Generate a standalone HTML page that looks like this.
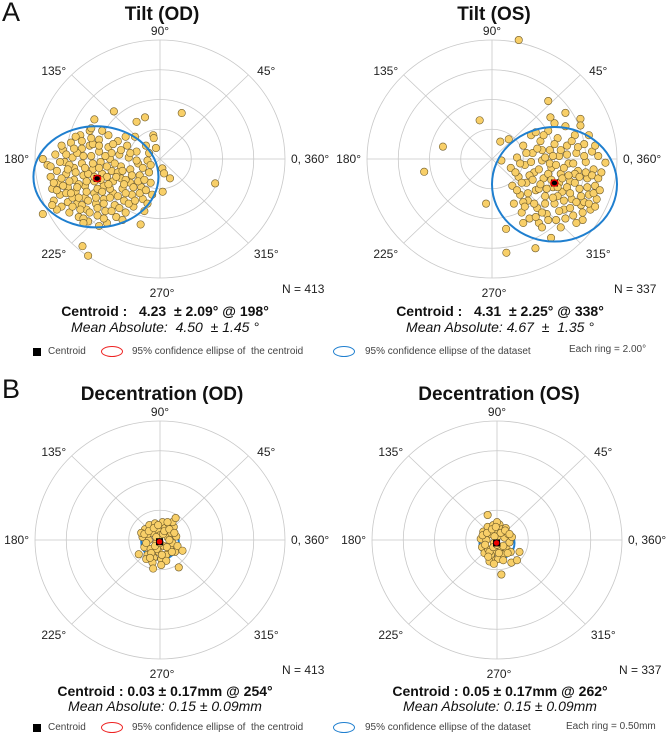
<!DOCTYPE html>
<html><head><meta charset="utf-8">
<style>
html,body{margin:0;padding:0;background:#fff;}
svg{display:block;font-family:"Liberation Sans","DejaVu Sans",sans-serif;}
</style></head>
<body>
<svg id="fig" width="669" height="740" viewBox="0 0 669 740" xmlns="http://www.w3.org/2000/svg"></svg>
<script>
// ---- data (degrees for tilt, mm for decentration) ----
const tiltODPoints = [[-7.5,0],[-7.5,-3.7],[-7.2,-0.4],[-7.0,-1.2],[-6.9,-2.0],[-6.8,-2.8],[-6.7,0.3],[-6.6,-0.8],[-6.5,-1.6],[-6.4,-2.4],[-6.3,-3.2],[-6.2,0.6],[-6.1,-0.2],[-6.0,-1.0],[-5.9,-1.9],[-5.9,-2.9],[-5.8,-3.6],[-5.7,1.1],[-5.6,0.1],[-5.5,-0.6],[-5.5,-1.4],[-5.4,-2.2],[-5.3,-3.0],[-5.2,-3.9],[-5.1,1.6],[-5.0,0.7],[-5.0,-0.3],[-4.9,-1.1],[-4.8,-1.8],[-4.8,-2.6],[-4.7,-3.4],[-4.6,-4.2],[-4.5,1.9],[-4.5,0.9],[-4.4,0.2],[-4.3,-0.7],[-4.2,-1.5],[-4.2,-2.3],[-4.1,-3.0],[-4.0,-3.8],[-3.9,1.3],[-3.9,0.5],[-3.8,-0.2],[-3.7,-1.0],[-3.6,-1.8],[-3.6,-2.7],[-3.5,-3.5],[-3.4,-4.3],[-3.3,1.6],[-3.3,0.8],[-3.2,0.0],[-3.1,-0.8],[-3.0,-1.5],[-3.0,-2.3],[-2.9,-3.1],[-2.8,-3.9],[-2.7,1.2],[-2.6,0.3],[-2.5,-0.5],[-2.5,-1.3],[-2.4,-2.0],[-2.3,-2.8],[-2.2,-3.6],[-2.1,0.9],[-2.0,0.1],[-1.9,-0.7],[-1.9,-1.6],[-1.8,-2.4],[-1.7,-3.2],[-1.6,1.5],[-1.5,0.5],[-1.4,-0.3],[-1.3,-1.1],[-1.2,-1.9],[-1.1,-2.7],[-1.0,-3.5],[-0.9,0.9],[-0.8,-0.1],[-0.7,-0.9],[-0.6,-1.6],[-0.5,-2.4],[-1.24,-4.4],[-4.96,-5.86],[-4.6,-6.5],[1.39,3.09],[3.53,-1.64],[-2.95,3.2],[-4.2,2.66],[-1.5,2.5],[-0.96,2.8],[-0.43,1.6],[-0.4,1.4],[-0.26,0.74],[0.15,-0.63],[0.26,-0.97],[0.64,-1.3],[0.17,-2.2],[-4.4,2.07],[-6.3,-1.3],[-5.2,-1.7],[-4.6,-1.0],[-3.4,-1.2],[-4.0,-2.0],[-5.6,-2.6],[-3.9,-0.6],[-4.7,-2.2],[-3.2,-2.0],[-2.7,-0.9],[-6.0,-2.3],[-5.0,-3.1],[-3.6,-3.0],[-5.3,0.4],[-4.3,1.0],[-2.2,-1.4],[-6.6,-3.4],[-5.8,-0.4],[-4.9,-4.0],[-3.1,0.4],
[-7.0,-0.5],[-6.8,-1.6],[-6.6,-2.1],[-6.4,-0.2],[-6.2,-1.8],[-6.0,0.3],[-5.9,-0.7],[-5.8,-1.5],[-5.7,-2.3],[-5.6,-3.2],[-5.5,0.7],[-5.4,-0.9],[-5.3,-1.9],[-5.2,-2.6],[-5.1,-3.4],[-5.0,1.2],[-4.9,0.2],[-4.8,-0.6],[-4.7,-1.5],[-4.6,-2.8],[-4.5,-3.6],[-4.4,1.4],[-4.3,-0.3],[-4.2,-1.2],[-4.1,-2.6],[-4.0,-3.3],[-3.9,0.9],[-3.8,-1.4],[-3.7,-2.2],[-3.6,-4.0],[-3.5,0.2],[-3.4,-0.5],[-3.3,-1.7],[-3.2,-2.6],[-3.1,-3.5],[-3.0,1.0],[-2.9,-0.3],[-2.8,-1.2],[-2.7,-2.5],[-2.6,-3.3],[-2.5,0.6],[-2.4,-0.8],[-2.3,-1.7],[-2.2,-2.3],[-2.0,-3.0],[-1.9,0.4],[-1.8,-1.1],[-1.7,-1.9],[-1.6,-2.8],[-1.5,-0.1],[-1.4,-1.5],[-1.3,-2.3],[-1.1,-0.6],[-1.0,-1.4],[-0.9,-2.1],[-0.8,-3.0],[-6.9,-3.1],[-6.3,0.9],[-5.4,1.5],[-3.7,1.9],[-2.2,1.5],[-4.9,-4.3],[-3.9,-4.5],[-2.4,-4.1],[-0.7,0.4],[-0.6,-0.4]];
const tiltOSPoints = [[1.2,-0.6],[1.3,-1.8],[1.4,-3.0],[1.6,0.1],[1.7,-1.2],[1.8,-2.4],[1.9,-3.6],[2.0,0.9],[2.1,-0.4],[2.2,-1.6],[2.3,-2.8],[2.4,-4.0],[2.5,1.6],[2.6,0.4],[2.7,-0.9],[2.8,-2.1],[2.9,-3.3],[3.0,-4.3],[3.1,1.2],[3.2,-0.1],[3.3,-1.3],[3.4,-2.5],[3.5,-3.7],[3.6,1.9],[3.7,0.6],[3.8,-0.6],[3.9,-1.9],[4.0,-3.0],[4.1,-4.1],[4.2,1.4],[4.3,0.2],[4.4,-1.0],[4.5,-2.2],[4.6,-3.4],[4.7,2.2],[4.8,0.9],[4.9,-0.3],[5.0,-1.5],[5.1,-2.7],[5.2,-3.8],[5.3,1.6],[5.4,0.4],[5.5,-0.8],[5.6,-2.0],[5.7,-3.1],[5.8,-4.1],[5.9,1.0],[6.0,-0.2],[6.1,-1.3],[6.2,-2.4],[6.3,-3.4],[6.4,0.5],[6.5,-0.7],[6.6,-1.8],[6.7,-2.7],[2.4,-1.1],[3.0,-2.0],[3.6,-1.0],[4.2,-2.5],[4.8,-1.9],[5.3,-1.0],[3.4,-3.0],[4.6,-0.6],[2.0,-2.9],[3.9,0.2],[5.0,-3.3],[4.3,-1.6],[2.8,-3.9],[5.9,-2.9],[3.2,0.6],[1.71,8.0],[-0.79,2.6],[-3.14,0.83],[-4.34,-0.86],[-0.38,-3.0],[0.53,1.17],[1.07,1.33],[0.6,-0.1],[3.6,3.9],[3.74,2.8],[4.7,3.1],[5.66,2.7],[5.66,2.25],[0.92,-6.3],[2.78,-6.0],[3.78,-5.3],[0.9,-4.7],[7.26,-0.25],[6.8,0.2],
[1.5,-0.9],[1.6,-2.1],[1.8,-0.3],[1.9,-1.6],[2.1,-3.2],[2.2,0.4],[2.3,-2.3],[2.5,-0.2],[2.6,-1.4],[2.7,-3.0],[2.9,0.7],[3.0,-0.7],[3.1,-1.7],[3.2,-3.6],[3.3,1.6],[3.4,0.1],[3.5,-2.0],[3.6,-4.1],[3.7,-0.3],[3.8,-1.4],[3.9,-2.6],[4.0,1.0],[4.1,-0.4],[4.2,-1.9],[4.3,-3.5],[4.4,0.6],[4.5,-1.3],[4.6,-2.8],[4.7,-4.0],[4.8,0.3],[4.9,-1.1],[5.0,-2.3],[5.1,1.2],[5.2,-0.3],[5.3,-1.6],[5.4,-2.9],[5.5,0.8],[5.6,-1.2],[5.7,-2.5],[5.8,-3.6],[5.9,0.2],[6.0,-0.9],[6.1,-1.9],[6.2,-3.0],[6.4,-1.1],[6.5,-2.3],[6.6,-3.2],[6.8,-1.3],[6.9,-2.1],[7.0,-0.9],[2.0,-4.3],[3.2,-4.6],[4.4,-4.6],[5.4,-4.3],[6.6,0.9],[6.2,1.6],[4.0,2.4],[2.8,1.8]];
const decODPoints = [[-0.28,0.05],[-0.25,-0.12],[-0.24,0.18],[-0.2,-0.25],[-0.18,0.0],[-0.17,0.25],[-0.15,-0.15],[-0.12,0.12],[-0.1,-0.3],[-0.08,0.28],[-0.06,-0.05],[-0.04,0.18],[-0.02,-0.2],[0.0,0.08],[0.02,-0.32],[0.04,0.3],[0.06,-0.1],[0.08,0.2],[0.1,-0.25],[0.12,0.05],[0.14,0.27],[0.16,-0.15],[0.18,0.12],[0.2,-0.05],[0.22,0.22],[0.24,-0.2],[0.26,0.06],[-0.22,-0.32],[-0.12,-0.38],[0.1,-0.35],[0.2,0.3],[-0.3,0.12],[0.28,-0.1],[-0.2,0.1],[0.05,0.1],[-0.05,-0.15],[0.15,0.0],[0.25,0.37],[0.36,-0.18],[-0.11,-0.48],[0.3,-0.46],[-0.34,-0.24],[0.02,-0.42],
[-0.25,0.1],[-0.22,-0.05],[-0.18,0.15],[-0.14,-0.22],[-0.1,0.2],[-0.08,-0.1],[-0.03,0.25],[0.03,-0.25],[0.07,0.15],[0.11,-0.12],[0.15,0.18],[0.19,-0.2],[0.23,0.12],[-0.16,-0.3],[0.0,-0.05],[0.12,0.3],[-0.06,0.05]];
const decOSPoints = [[-0.26,0.02],[-0.24,-0.12],[-0.22,0.14],[-0.2,-0.22],[-0.17,0.0],[-0.15,0.22],[-0.14,-0.16],[-0.1,0.1],[-0.09,-0.3],[-0.06,0.25],[-0.05,-0.05],[-0.03,0.16],[-0.01,-0.2],[0.01,0.06],[0.02,-0.32],[0.04,0.26],[0.06,-0.12],[0.08,0.18],[0.1,-0.24],[0.12,0.04],[0.14,0.2],[0.16,-0.16],[0.18,0.1],[0.2,-0.04],[0.22,-0.2],[-0.12,-0.36],[-0.05,-0.4],[0.1,-0.34],[0.24,0.05],[-0.15,0.42],[0.07,-0.58],[0.36,-0.2],[0.23,-0.38],[0.32,-0.34],[-0.1,-0.25],[0.0,0.3],
[-0.23,0.08],[-0.19,-0.08],[-0.16,0.12],[-0.12,-0.2],[-0.08,0.18],[-0.06,-0.12],[-0.02,0.22],[0.03,-0.22],[0.06,0.12],[0.1,-0.1],[0.13,0.16],[0.17,-0.22],[0.2,0.1],[-0.14,-0.28],[0.0,-0.08],[-0.04,0.06]];
// centroids: [magnitude, angle deg]
const centroids = [[4.23,198],[4.31,338],[0.03,254],[0.05,262]];
// dataset 95% ellipses: [cx, cy, rx, ry] in data units
const dataEllipses = [[-4.1,-1.2,4.0,3.4],[4.0,-1.7,4.0,3.85],[0.0,-0.03,0.3,0.3],[0.0,-0.05,0.28,0.28]];
const ringMax = [8, 8, 2, 2];
const angleTicks = [0,45,90,135,180,225,270,315];
const angleLabels = ["0, 360°","45°","90°","135°","180°","225°","270°","315°"];
const titles = ["Tilt (OD)","Tilt (OS)","Decentration (OD)","Decentration (OS)"];
const nLabels = ["N = 413","N = 337","N = 413","N = 337"];

const NS="http://www.w3.org/2000/svg";
const svg=document.getElementById('fig');
function mk(tag,attrs,parent){const e=document.createElementNS(NS,tag);for(const k in attrs)e.setAttribute(k,attrs[k]);(parent||svg).appendChild(e);return e;}
function txt(s,attrs,parent){const e=mk('text',attrs,parent);e.textContent=s;return e;}

const panels=[{cx:160,cy:159},{cx:492,cy:159},{cx:160,cy:540},{cx:497,cy:540}];
const RX=125, RY=119;

panels.forEach((p,i)=>{
  const g=mk('g',{});
  
  
  const sx=v=>p.cx+v/ringMax[i]*RX, sy=v=>p.cy-v/ringMax[i]*RY;
  for(let k=1;k<=4;k++){
    const r=mk('ellipse',{cx:p.cx,cy:p.cy,rx:RX*k/4,ry:RY*k/4,fill:'none',stroke:'#c8c8c8','stroke-width':0.8},g);
    
    
  }
  angleTicks.forEach((a,j)=>{
    const t=a*Math.PI/180;
    const l=mk('line',{x1:p.cx,y1:p.cy,x2:p.cx+RX*Math.cos(t),y2:p.cy-RY*Math.sin(t),stroke:'#c8c8c8','stroke-width':0.8},g);
    
    
    let lx, ly, anchor='middle';
    if(a%90!==0){
      lx=p.cx+Math.sign(Math.cos(t))*RX*0.85;
      ly=p.cy-Math.sign(Math.sin(t))*RY*(Math.sin(t)>0?0.74:0.8);
    }
    if(a===0){lx=p.cx+RX+6;ly=p.cy;anchor='start';}
    if(a===180){lx=p.cx-RX-6;ly=p.cy;anchor='end';}
    if(a===90){lx=p.cx;ly=p.cy-RY-9;}
    if(a===270){lx=p.cx+2;ly=p.cy+RY+15;}
    const lt=txt(angleLabels[j],{x:lx,y:ly+4,'font-size':12,fill:'#222','text-anchor':anchor},g);
    
    
  });
  const de=dataEllipses[i];
  const dataPts=[tiltODPoints,tiltOSPoints,decODPoints,decOSPoints][i];
  const el=mk('ellipse',{cx:sx(de[0]),cy:sy(de[1]),rx:de[2]/ringMax[i]*RX,ry:de[3]/ringMax[i]*RY,fill:'none',stroke:'#1f7fcf','stroke-width':2},g);
  
  
  dataPts.forEach(pt=>{
    const c=mk('circle',{cx:sx(pt[0]),cy:sy(pt[1]),r:3.7,fill:'#f8cf68',stroke:'#6e5a28','stroke-width':0.6},g);
    
    
  });
  if(i<2) g.appendChild(el);
  const cm=centroids[i], ct=cm[1]*Math.PI/180;
  const ccx=sx(cm[0]*Math.cos(ct)), ccy=sy(cm[0]*Math.sin(ct));
  const sq=mk('rect',{x:ccx-3.5,y:ccy-3.5,width:7,height:7,fill:'#000'},g);
  
  
  const ce=mk('ellipse',{cx:ccx,cy:ccy,rx:i<2?3.5:2,ry:i<2?3:2,fill:i<2?'none':'#e00',stroke:'#e00','stroke-width':1.5},g);
  
  
  const ty=i<2?20:400;
  const tt=txt(titles[i],{x:p.cx+2,y:ty,'font-size':19,'font-weight':'bold',fill:'#111','text-anchor':'middle'});
  
  
  const nt=txt(nLabels[i],{x:p.cx+122,y:p.cy+134,'font-size':12,fill:'#222'});
  
  
});
</script>
<div style="position:absolute;left:0;top:0;width:669px;height:740px;pointer-events:none;font-family:'Liberation Sans','DejaVu Sans',sans-serif;color:#111;">
  <div style="position:absolute;left:2px;top:-3px;font-size:27px;">A</div>
  <div style="position:absolute;left:2px;top:374px;font-size:27px;">B</div>

  <div style="position:absolute;left:0;width:330px;top:303px;text-align:center;font-size:14px;font-weight:bold;">Centroid :&nbsp;&nbsp; 4.23 &nbsp;± 2.09° @ 198°</div>
  <div style="position:absolute;left:0;width:330px;top:319px;text-align:center;font-size:14px;font-style:italic;">Mean Absolute:&nbsp; 4.50 &nbsp;± 1.45 °</div>
  <div style="position:absolute;left:335px;width:330px;top:303px;text-align:center;font-size:14px;font-weight:bold;">Centroid :&nbsp;&nbsp; 4.31 &nbsp;± 2.25° @ 338°</div>
  <div style="position:absolute;left:335px;width:330px;top:319px;text-align:center;font-size:14px;font-style:italic;">Mean Absolute: 4.67 &nbsp;± &nbsp;1.35 °</div>

  <div style="position:absolute;left:0;width:330px;top:683px;text-align:center;font-size:14px;font-weight:bold;">Centroid : 0.03 ± 0.17mm @ 254°</div>
  <div style="position:absolute;left:0;width:330px;top:698px;text-align:center;font-size:14px;font-style:italic;">Mean Absolute: 0.15 ± 0.09mm</div>
  <div style="position:absolute;left:335px;width:330px;top:683px;text-align:center;font-size:14px;font-weight:bold;">Centroid : 0.05 ± 0.17mm @ 262°</div>
  <div style="position:absolute;left:335px;width:330px;top:698px;text-align:center;font-size:14px;font-style:italic;">Mean Absolute: 0.15 ± 0.09mm</div>

  <div style="position:absolute;left:0;top:345px;width:669px;height:16px;font-size:10px;color:#444;">
    <span style="position:absolute;left:33px;top:3px;width:8px;height:8px;background:#000;"></span>
    <span style="position:absolute;left:48px;top:1px;">Centroid</span>
    <span style="position:absolute;left:101px;top:1px;width:20px;height:9px;border:1.3px solid #e22;border-radius:50%;"></span>
    <span style="position:absolute;left:132px;top:1px;">95% confidence ellipse of&nbsp; the centroid</span>
    <span style="position:absolute;left:333px;top:1px;width:20px;height:9px;border:1.3px solid #1f7fcf;border-radius:50%;"></span>
    <span style="position:absolute;left:365px;top:1px;">95% confidence ellipse of the dataset</span>
    <span style="position:absolute;left:569px;top:-1px;">Each ring = 2.00°</span>
  </div>
  <div style="position:absolute;left:0;top:721px;width:669px;height:16px;font-size:10px;color:#444;">
    <span style="position:absolute;left:33px;top:3px;width:8px;height:8px;background:#000;"></span>
    <span style="position:absolute;left:48px;top:1px;">Centroid</span>
    <span style="position:absolute;left:101px;top:1px;width:20px;height:9px;border:1.3px solid #e22;border-radius:50%;"></span>
    <span style="position:absolute;left:132px;top:1px;">95% confidence ellipse of&nbsp; the centroid</span>
    <span style="position:absolute;left:333px;top:1px;width:20px;height:9px;border:1.3px solid #1f7fcf;border-radius:50%;"></span>
    <span style="position:absolute;left:365px;top:1px;">95% confidence ellipse of the dataset</span>
    <span style="position:absolute;left:566px;top:0px;">Each ring = 0.50mm</span>
  </div>
</div>
</body></html>
